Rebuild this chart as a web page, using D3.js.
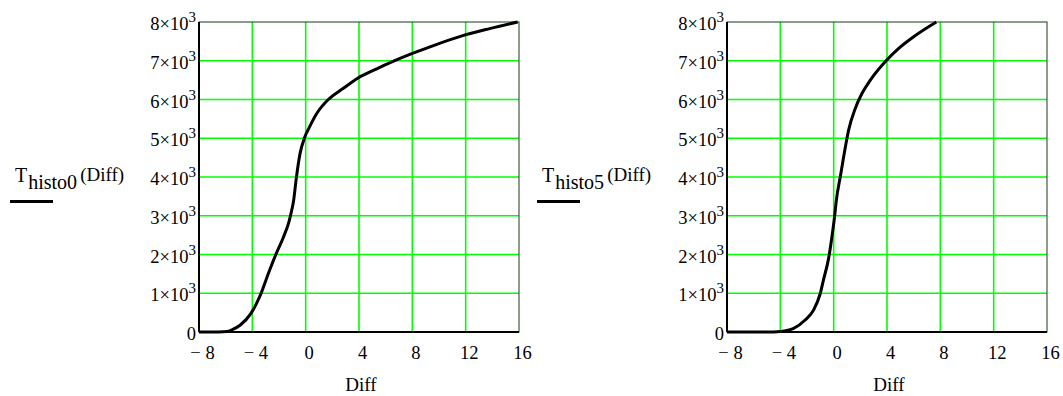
<!DOCTYPE html>
<html>
<head>
<meta charset="utf-8">
<script src="https://cdn.jsdelivr.net/npm/d3@7"></script>
<style>
  body { margin: 0; background: #fff; }
</style>
</head>
<body>
<div id="chart"></div>
<script>
// tick values
const xTicks = [-8, -4, 0, 4, 8, 12, 16]
const yTicks = [0, 1000, 2000, 3000, 4000, 5000, 6000, 7000, 8000]

// histo0 curve (Diff, count)
const diff0 = [-8, -6.5, -5.9, -5.5, -4.9, -4.1, -3.4, -2.7, -2.2, -1.7, -1.25, -1.1, -0.9, -0.72, -0.42, -0.1, 0.3, 0.83, 1.7, 2.83, 3.9, 5.33, 6.33, 8, 9.33, 11.9, 13.8, 15.9]
const val0 = [0, 0, 10, 60, 180, 480, 950, 1600, 2030, 2420, 2850, 3060, 3400, 3920, 4610, 5000, 5300, 5640, 6000, 6290, 6550, 6790, 6950, 7190, 7360, 7660, 7830, 8000]

// histo5 curve
const diff5 = [-8, -4.5, -4, -3, -2.14, -1.5, -1, -0.76, -0.38, -0.13, 0.07, 0.2, 0.5, 0.75, 1.12, 1.62, 2.13, 2.75, 3.88, 4.88, 6, 7.7]
const val5 = [0, 0, 10, 95, 310, 570, 1000, 1350, 1900, 2460, 2980, 3400, 4010, 4520, 5210, 5770, 6160, 6500, 6980, 7320, 7620, 8000]

const W = 1063, H = 396
const FONT = "'Liberation Serif', 'DejaVu Serif', 'Times New Roman', serif"
const svg = d3.select("#chart").append("svg")
    .attr("width", W)
    .attr("height", H)
    .attr("font-family", FONT)

function draw_panel(left, name, xs, ys, labelX, legendX){
    const top = 22, bottom = 332, right = left + 320
    const x = d3.scaleLinear().domain([-8, 16]).range([left, right])
    const y = d3.scaleLinear().domain([0, 8000]).range([bottom, top])
    const g = svg.append("g")

    // grid
    g.selectAll(".vgrid").data(xTicks.slice(1, -1)).enter().append("line")
        .attr("x1", d => x(d)).attr("x2", d => x(d))
        .attr("y1", top).attr("y2", bottom)
        .attr("stroke", "#00ff00").attr("stroke-width", 1.6)
    g.selectAll(".hgrid").data(yTicks.slice(1, -1)).enter().append("line")
        .attr("x1", left).attr("x2", right)
        .attr("y1", d => y(d)).attr("y2", d => y(d))
        .attr("stroke", "#00ff00").attr("stroke-width", 1.6)

    // frame
    g.append("rect")
        .attr("x", left).attr("y", top)
        .attr("width", right - left).attr("height", bottom - top)
        .attr("fill", "none").attr("stroke", "#1a3a1a").attr("stroke-width", 1)
    g.append("line").attr("x1", left).attr("x2", left).attr("y1", top).attr("y2", bottom)
        .attr("stroke", "#000").attr("stroke-width", 2)
    g.append("line").attr("x1", left).attr("x2", right).attr("y1", bottom).attr("y2", bottom)
        .attr("stroke", "#000").attr("stroke-width", 2)

    // curve
    const pts = xs.map((d, i) => [d, ys[i]])
    g.append("path")
        .datum(pts)
        .attr("fill", "none")
        .attr("stroke", "#000")
        .attr("stroke-width", 3)
        .attr("stroke-linejoin", "round")
        .attr("d", d3.line()
            .curve(d3.curveMonotoneX)
            .x(d => x(d[0]))
            .y(d => y(d[1])))

    // y tick labels
    yTicks.forEach(v => {
        const t = g.append("text")
            .attr("text-anchor", "end")
            .attr("x", left - 3)
            .attr("y", y(v) + 8)
            .attr("font-size", 18.5)
        if (v === 0) {
            t.text("0")
        } else {
            t.append("tspan").text((v / 1000) + "\u00d710")
            t.append("tspan").attr("dy", -8).attr("font-size", 15).text("3")
        }
    })

    // x tick labels
    xTicks.forEach(v => {
        g.append("text")
            .attr("text-anchor", "middle")
            .attr("x", x(v) + 3.5)
            .attr("y", 359)
            .attr("font-size", 18.5)
            .text(v < 0 ? "\u2212 " + Math.abs(v) : String(v))
    })

    // x axis title
    g.append("text")
        .attr("text-anchor", "middle")
        .attr("x", (left + right) / 2 + 2)
        .attr("y", 391)
        .attr("font-size", 19)
        .text("Diff")

    // y axis title with legend line
    const lab = g.append("text")
        .attr("x", labelX)
        .attr("y", 182)
        .attr("font-size", 20)
    lab.append("tspan").text("T")
    lab.append("tspan").attr("dy", 7).attr("dx", 1).attr("font-size", 20).text(name)
    lab.append("tspan").attr("dy", -8).attr("dx", 3).attr("font-size", 19).text("(Diff)")
    g.append("line")
        .attr("x1", legendX).attr("x2", legendX + 43)
        .attr("y1", 201.5).attr("y2", 201.5)
        .attr("stroke", "#000").attr("stroke-width", 3)
}

draw_panel(199, "histo0", diff0, val0, 15, 10)
draw_panel(727, "histo5", diff5, val5, 542, 537)
</script>
</body>
</html>
